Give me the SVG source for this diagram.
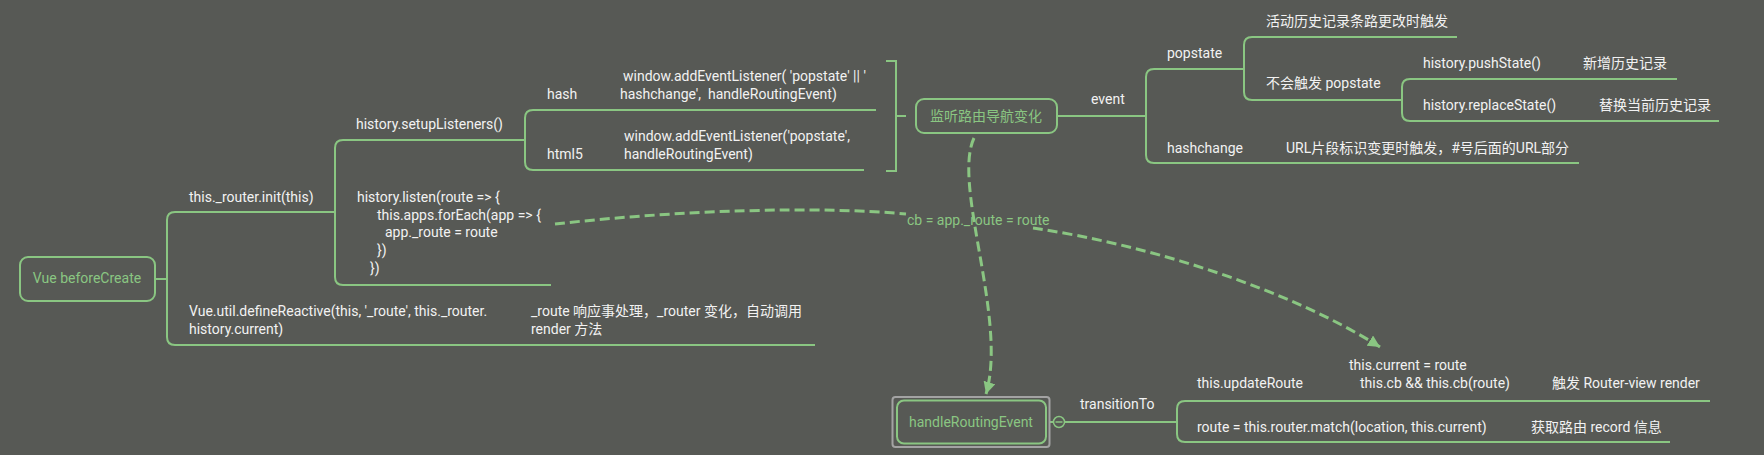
<svg xmlns="http://www.w3.org/2000/svg" width="1764" height="455" viewBox="0 0 1764 455">
<defs>
<style>
.ln{fill:none;stroke:#8ac682;stroke-width:2}
.dash{fill:none;stroke:#8ac682;stroke-width:3;stroke-dasharray:10 5}
.box{fill:none;stroke:#8ac682;stroke-width:2}
.t{font-family:Roboto,"Noto Sans CJK SC",sans-serif;font-size:14px;fill:#f2f2f2}
.g{fill:#8ac682}
.c{text-anchor:middle}
</style>
<marker id="arr" markerUnits="userSpaceOnUse" markerWidth="14" markerHeight="14" refX="12" refY="6" orient="auto">
<path d="M0,0 L12,6 L0,12 z" fill="#8ac682"/>
</marker>
</defs>
<rect x="0" y="0" width="1764" height="455" fill="#575955"/>

<g id="connectors">
<path class="ln" d="M155,279 H167"/>
<path class="ln" d="M335,212 H175 Q167,212 167,220 V337 Q167,345 175,345 H815"/>
<path class="ln" d="M551,285 H343 Q335,285 335,277 V148 Q335,140 343,140 H525"/>
<path class="ln" d="M876,110 H533 Q525,110 525,118 V162 Q525,170 533,170 H864"/>
<path class="ln" d="M886,61 H896 V171 H886 M896,116 H906"/>
<path class="ln" d="M1057,116 H1146"/>
<path class="ln" d="M1244,69 H1154 Q1146,69 1146,77 V155 Q1146,163 1154,163 H1579"/>
<path class="ln" d="M1457,37 H1252 Q1244,37 1244,45 V92 Q1244,100 1252,100 H1402"/>
<path class="ln" d="M1677,79 H1410 Q1402,79 1402,87 V113 Q1402,121 1410,121 H1719"/>
<path class="ln" d="M1050,422 H1053.5 M1064.5,422 H1177"/>
<path class="ln" d="M1710,401 H1185 Q1177,401 1177,409 V434 Q1177,442 1185,442 H1670"/>
<circle cx="1059" cy="422" r="5.5" fill="#575955" stroke="#8ac682" stroke-width="1.5"/>
<path d="M1055.5,422 H1062.5" stroke="#8ac682" stroke-width="1.5"/>
<path class="dash" d="M555,224 C680,210 820,206 906,214"/>
<path class="dash" d="M1033,228 C1150,245 1290,290 1380,347" marker-end="url(#arr)"/>
<text class="t g" x="907" y="225" font-size="13">cb = app._route = route</text>
<path class="dash" d="M974,138 C952,185 1008,320 986,394" marker-end="url(#arr)"/>
</g>

<g id="vue-beforecreate">
<rect class="box" x="20" y="257" width="135" height="44" rx="8"/>
<text class="t g c" x="87" y="283">Vue beforeCreate</text>
</g>

<g id="router-init">
<text class="t" x="189" y="202">this._router.init(this)</text>
</g>

<g id="define-reactive">
<text class="t" x="189" y="316">Vue.util.defineReactive(this, '_route', this._router.</text>
<text class="t" x="189" y="334">history.current)</text>
<text class="t" x="531" y="316">_route 响应事处理，_router 变化，自动调用</text>
<text class="t" x="531" y="334">render 方法</text>
</g>

<g id="setup-listeners">
<text class="t" x="356" y="129">history.setupListeners()</text>
</g>

<g id="history-listen">
<text class="t" x="357" y="202">history.listen(route =&gt; {</text>
<text class="t" x="377" y="220">this.apps.forEach(app =&gt; {</text>
<text class="t" x="385" y="237">app._route = route</text>
<text class="t" x="377" y="255">})</text>
<text class="t" x="370" y="273">})</text>
</g>

<g id="hash">
<text class="t" x="547" y="99">hash</text>
<text class="t" x="623" y="81">window.addEventListener( 'popstate' || '</text>
<text class="t" x="620" y="99">hashchange',&#160; handleRoutingEvent)</text>
</g>

<g id="html5">
<text class="t" x="547" y="159">html5</text>
<text class="t" x="624" y="141">window.addEventListener('popstate',</text>
<text class="t" x="624" y="159">handleRoutingEvent)</text>
</g>

<g id="listen-nav">
<rect class="box" x="916" y="99" width="141" height="34" rx="8"/>
<text class="t g c" x="986" y="121">监听路由导航变化</text>
</g>

<g id="event">
<text class="t" x="1091" y="104">event</text>
</g>

<g id="popstate">
<text class="t" x="1167" y="58">popstate</text>
<text class="t" x="1266" y="26">活动历史记录条路更改时触发</text>
<text class="t" x="1266" y="88">不会触发 popstate</text>
</g>

<g id="push-state">
<text class="t" x="1423" y="68">history.pushState()</text>
<text class="t" x="1583" y="68">新增历史记录</text>
</g>

<g id="replace-state">
<text class="t" x="1423" y="110">history.replaceState()</text>
<text class="t" x="1599" y="110">替换当前历史记录</text>
</g>

<g id="hashchange">
<text class="t" x="1167" y="153">hashchange</text>
<text class="t" x="1286" y="153">URL片段标识变更时触发，#号后面的URL部分</text>
</g>

<g id="handle-routing-event">
<rect x="892.5" y="397" width="157" height="50" rx="3" fill="none" stroke="#a3a3a3" stroke-width="2"/>
<rect class="box" x="897" y="400.5" width="149" height="43" rx="7"/>
<text class="t g c" x="971" y="427">handleRoutingEvent</text>
</g>

<g id="transition-to">
<text class="t" x="1080" y="409">transitionTo</text>
</g>

<g id="update-route">
<text class="t" x="1197" y="388">this.updateRoute</text>
<text class="t" x="1349" y="370">this.current = route</text>
<text class="t" x="1360" y="388">this.cb &amp;&amp; this.cb(route)</text>
<text class="t" x="1552" y="388">触发 Router-view render</text>
</g>

<g id="router-match">
<text class="t" x="1197" y="432">route = this.router.match(location, this.current)</text>
<text class="t" x="1531" y="432">获取路由 record 信息</text>
</g>
</svg>
